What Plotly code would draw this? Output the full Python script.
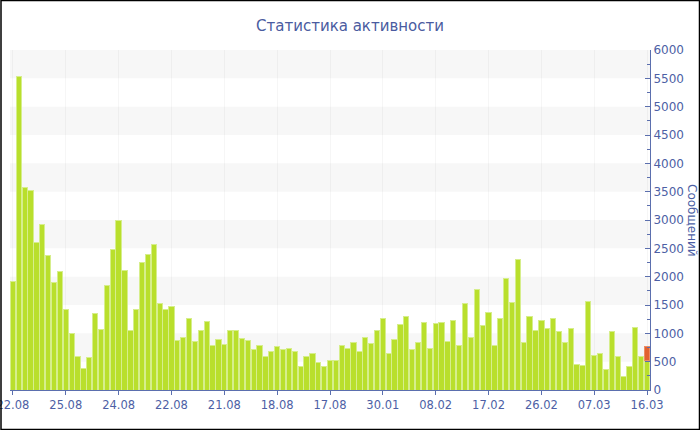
import plotly.graph_objects as go

# Messages per period (green) and the extra part of the last period (red)
values = [
    1910, 5540, 3575, 3522, 2611, 2917, 2381, 1893, 2093, 1417,
    1005, 600, 382, 565, 1358, 1070, 1846, 2475, 2999, 2117,
    1053, 1423, 2252, 2393, 2564, 1535, 1417, 1482, 876, 929,
    1264, 864, 1058, 1205, 782, 888, 811, 1058, 1045, 911,
    870, 723, 794, 600, 688, 759, 717, 741, 676, 417,
    600, 641, 494, 417, 517, 523, 788, 729, 835, 676,
    929, 823, 1053, 1270, 647, 894, 1158, 1305, 706, 847,
    1200, 735, 1176, 1194, 864, 1229, 788, 1523, 935, 1770,
    1135, 1376, 788, 1258, 1976, 1541, 2305, 841, 1305, 1053,
    1229, 1088, 1258, 1041, 847, 1094, 453, 429, 1558, 612,
    647, 359, 1029, 594, 241, 412, 1105, 600, 529,
]
extra_last = 247

tick_labels = ["22.08", "25.08", "24.08", "22.08", "21.08", "18.08", "17.08",
               "30.01", "08.02", "17.02", "26.02", "07.03", "16.03"]
tick_step = 9

title_text = "Статистика активности"
y_title = "Сообщений"

n = len(values)
xs = list(range(n))
extra = [None] * (n - 1) + [extra_last]

label_color = "#4d5fa5"
axis_color = "#5b6fae"
font_family = "DejaVu Sans, Verdana, sans-serif"

fig = go.Figure()
fig.add_trace(go.Bar(
    x=xs, y=values,
    marker=dict(color="#b9df2c", line=dict(color="#d6ee8c", width=1)),
    hoverinfo="y", showlegend=False,
))
fig.add_trace(go.Bar(
    x=xs, y=extra,
    marker=dict(color="#e2622f", line=dict(color="#ec8c66", width=1)),
    hoverinfo="y", showlegend=False,
))

# alternating horizontal bands
shapes = []
for lo in range(500, 6000, 1000):
    shapes.append(dict(type="rect", xref="paper", yref="y", x0=0, x1=1,
                       y0=lo, y1=lo + 500, fillcolor="#f7f7f7",
                       line=dict(width=0), layer="below"))

# outer border of the chart
L, R, T, B = 10, 50, 50, 40
W, H = 700, 430
pw, ph = W - L - R, H - T - B
def px(xp):
    return (xp - L) / pw
def py(yp):
    return (H - B - yp) / ph
shapes.append(dict(type="rect", xref="paper", yref="paper",
                   x0=px(1.0), x1=px(W - 0.5), y0=py(0.5), y1=py(H - 0.5),
                   line=dict(color="#000000", width=1.5), fillcolor="rgba(0,0,0,0)",
                   layer="above"))

fig.update_layout(
    width=W, height=H,
    margin=dict(l=L, r=R, t=T, b=B, autoexpand=False),
    paper_bgcolor="white", plot_bgcolor="white",
    barmode="stack", bargap=0.1,
    font=dict(family=font_family, color=label_color, size=11),
    title=dict(text=title_text, x=0.5, xref="container", xanchor="center",
               y=1 - 26 / H, yanchor="middle",
               font=dict(family=font_family, size=15, color="#4a5ba0")),
    shapes=shapes,
    xaxis=dict(
        range=[-0.5, n - 0.5],
        tickvals=[i * tick_step for i in range(len(tick_labels))],
        ticktext=tick_labels,
        showline=True, linecolor=axis_color, linewidth=1,
        ticks="outside", ticklen=4, tickcolor=axis_color,
        showgrid=True, gridcolor="rgba(0,0,0,0.035)", gridwidth=1,
        zeroline=False, automargin=False, ticklabeloverflow="allow",
        tickfont=dict(size=11.5, color=label_color),
    ),
    yaxis=dict(
        side="right", range=[0, 6000], dtick=500,
        showline=True, linecolor=axis_color, linewidth=1,
        ticks="inside", ticklen=5, tickcolor=axis_color,
        minor=dict(dtick=250, ticks="inside", ticklen=3, tickcolor=axis_color, showgrid=False),
        showgrid=False, zeroline=False, automargin=False,
        tickfont=dict(size=12, color=label_color),
    ),
    annotations=[dict(
        text=y_title, xref="paper", yref="paper",
        x=px(692), y=0.5, xanchor="center", yanchor="middle",
        textangle=90, showarrow=False,
        font=dict(family=font_family, size=12, color=label_color),
    )],
)

fig.write_html("out.html", config={"displayModeBar": False},
               post_script="document.body.style.margin='0';document.body.style.overflow='hidden';")
